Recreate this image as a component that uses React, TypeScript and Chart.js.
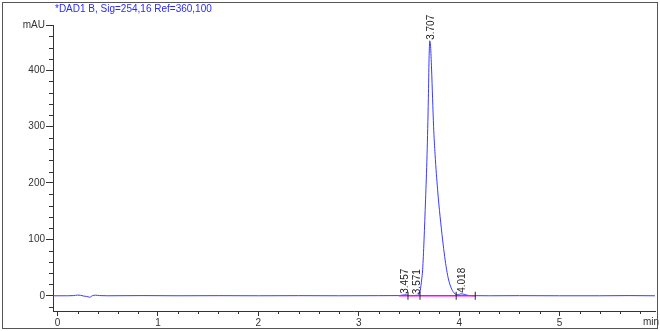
import React, { useEffect, useRef } from 'react';
import { Chart, registerables } from 'chart.js';

Chart.register(...registerables);

// ---- data ----
const titleText = '*DAD1 B, Sig=254,16 Ref=360,100';
const xUnit = 'min';

const traceTime = [
  -0.045, 0.10, 0.16, 0.20, 0.23, 0.26, 0.29, 0.32, 0.35, 0.38, 0.42, 0.50, 0.85, 1.20, 1.60, 2.00,
  2.40, 2.80, 3.20, 3.40, 3.43, 3.457, 3.49, 3.52, 3.55, 3.571, 3.59, 3.60, 3.613, 3.626, 3.636,
  3.65, 3.665, 3.68, 3.693, 3.70, 3.707, 3.715, 3.725, 3.735, 3.745, 3.76, 3.785, 3.81, 3.835,
  3.855, 3.875, 3.895, 3.925, 3.95, 3.97, 3.99, 4.018, 4.05, 4.08, 4.12, 4.30, 4.60, 5.00, 5.40,
  5.70, 5.95,
];
const traceSignal = [
  0, 0, 0.3, 1.2, 0.8, -0.5, -1.2, -2.5, 0.3, 1.0, 0.3, 0, 0.3, 0, 0.2, 0,
  0.2, 0, 0.2, 0.3, 1.0, 1.8, 1.0, 0.3, 0.4, 0.8, 1.0, 2.5, 10, 28, 46,
  99, 170, 250, 350, 420, 452, 442, 402, 350, 300, 250, 188, 140, 99,
  70, 46, 28, 12, 5, 2, 1.8, 3.5, 2.5, 1.0, 0.2, 0, 0.2, 0, 0,
  0.3, 0,
];

const baselineTime = [3.40, 4.16];
const baselineSignal = [0, 0];

const markTime = [3.49, 3.61, 3.97, 4.16];
const markSignal = [0, 0, 0, 0];

const peakTime = [3.457, 3.571, 3.707, 4.018];
const peakApex = [1.8, 1.0, 452, 3.5];
const peakLabels = ['3.457', '3.571', '3.707', '4.018'];

const xTicks = [0, 1, 2, 3, 4, 5];
const yTicks = [0, 100, 200, 300, 400, 480];
const yTickLabels = ['0', '100', '200', '300', '400', 'mAU'];
const xMinorStep = 0.2;
const yMinorStep = 20;

const FONT = '"Liberation Sans", Arial, sans-serif';

const decorPlugin = {
  id: 'decor',
  afterDraw(chart: any) {
    const { ctx, chartArea } = chart;
    const xs = chart.scales.x;
    const ys = chart.scales.y;
    ctx.save();
    ctx.strokeStyle = '#333';
    ctx.lineWidth = 1;
    // y minor ticks
    for (let v = ys.min + ((yMinorStep - (ys.min % yMinorStep)) % yMinorStep); v <= ys.max; v += yMinorStep) {
      if (yTicks.includes(v)) continue;
      const py = Math.round(ys.getPixelForValue(v)) + 0.5;
      ctx.beginPath();
      ctx.moveTo(chartArea.left - 4, py);
      ctx.lineTo(chartArea.left, py);
      ctx.stroke();
    }
    // x minor ticks
    for (let i = 0; i * xMinorStep <= xs.max; i++) {
      const v = +(i * xMinorStep).toFixed(3);
      if (xTicks.includes(v)) continue;
      const px = Math.round(xs.getPixelForValue(v)) + 0.5;
      ctx.beginPath();
      ctx.moveTo(px, chartArea.bottom);
      ctx.lineTo(px, chartArea.bottom + 3);
      ctx.stroke();
    }
    // title
    ctx.font = `10px ${FONT}`;
    ctx.fillStyle = '#2a2aff';
    ctx.textAlign = 'left';
    ctx.textBaseline = 'alphabetic';
    ctx.fillText(titleText, 55, 12);
    // x unit
    ctx.fillStyle = '#333';
    ctx.fillText(xUnit, 643, 325);
    // retention time labels
    ctx.fillStyle = '#222';
    peakTime.forEach((t, i) => {
      const px = xs.getPixelForValue(t);
      const py = ys.getPixelForValue(peakApex[i]) - 1;
      ctx.save();
      ctx.translate(px + 1, py);
      ctx.rotate(-Math.PI / 2);
      ctx.textAlign = 'left';
      ctx.textBaseline = 'middle';
      ctx.fillText(peakLabels[i], 0, 0);
      ctx.restore();
    });
    ctx.restore();
  },
};

export default function App() {
  const ref = useRef<HTMLCanvasElement | null>(null);

  useEffect(() => {
    if (!ref.current) return;
    const chart = new Chart(ref.current, {
      type: 'line',
      data: {
        datasets: [
          {
            data: markTime.map((t, i) => ({ x: t, y: markSignal[i] })),
            showLine: false,
            pointStyle: 'line',
            pointRotation: 90,
            pointRadius: 4,
            pointBorderColor: '#222',
            pointBorderWidth: 1,
            borderColor: '#222',
          } as any,
          {
            data: baselineTime.map((t, i) => ({ x: t, y: baselineSignal[i] })),
            borderColor: '#ff00ff',
            borderWidth: 1.6,
            pointRadius: 0,
          },
          {
            data: traceTime.map((t, i) => ({ x: t, y: traceSignal[i] })),
            borderColor: '#3a3aff',
            borderWidth: 1,
            pointRadius: 0,
            cubicInterpolationMode: 'monotone',
          },
        ],
      },
      options: {
        responsive: false,
        animation: false,
        events: [],
        layout: { padding: { top: 25, right: 4, left: 0, bottom: 0 } },
        plugins: { legend: { display: false }, tooltip: { enabled: false }, title: { display: false } },
        scales: {
          x: {
            type: 'linear',
            min: -0.045,
            max: 5.95,
            afterBuildTicks: (s: any) => {
              s.ticks = xTicks.map((v) => ({ value: v }));
            },
            afterFit: (s: any) => {
              s.height = 20;
            },
            ticks: {
              autoSkip: false,
              maxRotation: 0,
              padding: 1,
              color: '#333',
              font: { family: FONT, size: 10 },
              callback: (v: any) => String(v),
            },
            grid: { drawOnChartArea: false, tickLength: 5, tickColor: '#333' },
            border: { color: '#333' },
          },
          y: {
            type: 'linear',
            min: -27,
            max: 480,
            afterBuildTicks: (s: any) => {
              s.ticks = yTicks.map((v) => ({ value: v }));
            },
            afterFit: (s: any) => {
              s.width = 53;
            },
            ticks: {
              autoSkip: false,
              padding: 1,
              color: '#333',
              font: { family: FONT, size: 10 },
              callback: (v: any) => {
                const i = yTicks.indexOf(v);
                return i >= 0 ? yTickLabels[i] : '';
              },
            },
            grid: { drawOnChartArea: false, tickLength: 7, tickColor: '#333' },
            border: { color: '#333' },
          },
        },
      },
      plugins: [decorPlugin],
    } as any);
    return () => chart.destroy();
  }, []);

  return (
    <div style={{ position: 'absolute', left: 0, top: 0, width: 660, height: 331, background: '#fff' }}>
      <canvas ref={ref} width={660} height={331} style={{ display: 'block' }} />
      <div
        style={{
          position: 'absolute',
          left: 2,
          top: 2,
          width: 656,
          height: 327,
          border: '1px solid #555',
          boxSizing: 'border-box',
          pointerEvents: 'none',
        }}
      />
    </div>
  );
}
